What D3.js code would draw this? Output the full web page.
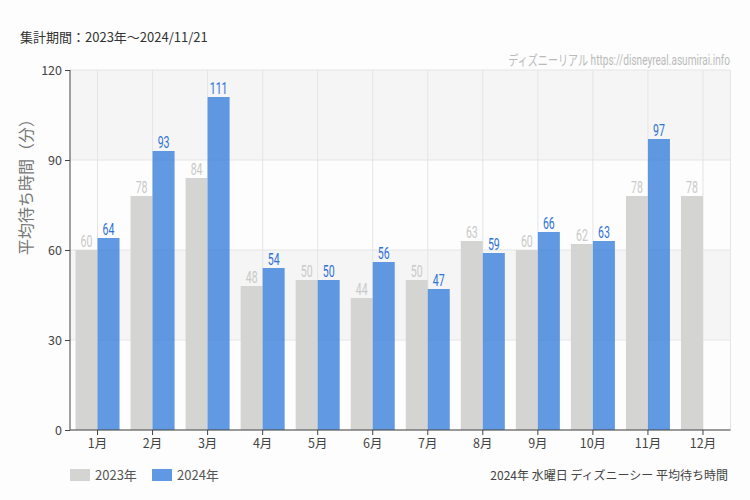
<!DOCTYPE html>
<html><head><meta charset="utf-8">
<script src="https://cdn.jsdelivr.net/npm/d3@7"></script>
<style>
body{margin:0;background:#fcfdfc;}
svg{display:block;font-family:"Noto Sans CJK JP","Noto Sans",sans-serif;}
.narrow{font-family:Roboto,"Noto Sans CJK JP",sans-serif;}
</style></head>
<body>
<script>
const months = ["1月","2月","3月","4月","5月","6月","7月","8月","9月","10月","11月","12月"];
const values2023 = [60,78,84,48,50,44,50,63,60,62,78,78];
const values2024 = [64,93,111,54,50,56,47,59,66,63,97,null];
const yTicks = [0,30,60,90,120];
const seriesNames = ["2023年","2024年"];

const W=750,H=500;
const m={l:70,r:19.5,t:70,b:70};
const svg=d3.select("body").append("svg").attr("width",W).attr("height",H);
svg.append("rect").attr("width",W).attr("height",H).attr("fill","#fcfdfc");

const x=d3.scaleBand().domain(months).range([m.l,W-m.r]).padding(0);
const y=d3.scaleLinear().domain([0,120]).range([H-m.b,m.t]);
const bw=22;
const sx=0.66;

for(let i=0;i<yTicks.length-1;i++){
  svg.append("rect").attr("x",m.l).attr("width",W-m.r-m.l)
    .attr("y",y(yTicks[i+1])).attr("height",y(yTicks[i])-y(yTicks[i+1]))
    .attr("fill", i%2===1 ? "#f4f5f4" : "#fcfdfc");
}
svg.append("g").selectAll("line").data(yTicks).join("line")
  .attr("x1",m.l).attr("x2",W-m.r).attr("y1",d=>y(d)).attr("y2",d=>y(d))
  .attr("stroke","#e4e5e4").attr("stroke-width",1);
svg.append("g").selectAll("line").data(months).join("line")
  .attr("x1",d=>x(d)+x.bandwidth()/2).attr("x2",d=>x(d)+x.bandwidth()/2)
  .attr("y1",m.t).attr("y2",H-m.b)
  .attr("stroke","#e4e5e4").attr("stroke-width",1);
svg.append("line").attr("x1",W-m.r).attr("x2",W-m.r).attr("y1",m.t).attr("y2",H-m.b)
  .attr("stroke","#e4e5e4");

svg.append("g").selectAll("rect").data(values2023).join("rect")
  .attr("x",(d,i)=>x(months[i])+x.bandwidth()/2-bw)
  .attr("width",bw).attr("y",d=>y(d)).attr("height",d=>y(0)-y(d))
  .attr("fill","#d4d5d3");
const v24=values2024.map((v,i)=>({v,i})).filter(d=>d.v!=null);
svg.append("g").selectAll("rect").data(v24).join("rect")
  .attr("x",d=>x(months[d.i])+x.bandwidth()/2)
  .attr("width",bw).attr("y",d=>y(d.v)).attr("height",d=>y(0)-y(d.v))
  .attr("fill","#3a7fdc").attr("fill-opacity",0.8);

svg.append("g").selectAll("text").data(values2023).join("text").attr("class","narrow")
  .attr("transform",(d,i)=>`translate(${x(months[i])+x.bandwidth()/2-bw/2},${y(d)-3}) scale(${sx},1)`)
  .attr("text-anchor","middle").attr("font-size",16).attr("fill","#c9c9c9").text(d=>d);
svg.append("g").selectAll("text").data(v24).join("text").attr("class","narrow")
  .attr("transform",d=>`translate(${x(months[d.i])+x.bandwidth()/2+bw/2},${y(d.v)-3}) scale(${sx},1)`)
  .attr("text-anchor","middle").attr("font-size",16).attr("fill","#2f72d6").text(d=>d.v);

const ya=svg.append("g").attr("transform",`translate(${m.l},0)`)
  .call(d3.axisLeft(y).tickValues(yTicks).tickSize(5).tickPadding(3));
const xa=svg.append("g").attr("transform",`translate(0,${H-m.b})`)
  .call(d3.axisBottom(x).tickSize(5).tickPadding(4));
[ya,xa].forEach(a=>{
  a.select(".domain").attr("stroke","#444").attr("stroke-width",1);
  a.selectAll(".tick line").attr("stroke","#444");
  a.selectAll("text").attr("font-size",12.5).attr("fill","#444")
    .attr("font-family","'Noto Sans CJK JP','Noto Sans',sans-serif");
});
ya.select(".domain").attr("d",`M0,${m.t}V${H-m.b}`);
xa.select(".domain").attr("d",`M${m.l},0H${W-m.r}`);

svg.append("text").attr("transform","translate(32,183) rotate(-90)")
  .attr("text-anchor","middle").attr("font-size",16).attr("fill","#777")
  .text("平均待ち時間（分）");

svg.append("text").attr("x",20).attr("y",42).attr("font-size",13).attr("fill","#333")
  .text("集計期間：2023年～2024/11/21");
svg.append("text").attr("class","narrow")
  .attr("transform","translate(730,65) scale(0.72,1)").attr("text-anchor","end")
  .attr("font-size",14).attr("fill","#bbb").text("ディズニーリアル https://disneyreal.asumirai.info");

const colors=["#d4d5d3","#6198e3"];
const lx=[70,152];
seriesNames.forEach((s,i)=>{
  svg.append("rect").attr("x",lx[i]).attr("y",469).attr("width",20).attr("height",12).attr("fill",colors[i]);
  svg.append("text").attr("x",lx[i]+25).attr("y",480).attr("font-size",13).attr("fill","#555").text(s);
});
svg.append("text").attr("x",728).attr("y",480).attr("text-anchor","end").attr("font-size",12)
  .attr("fill","#444").text("2024年 水曜日 ディズニーシー 平均待ち時間");
</script>
</body></html>
